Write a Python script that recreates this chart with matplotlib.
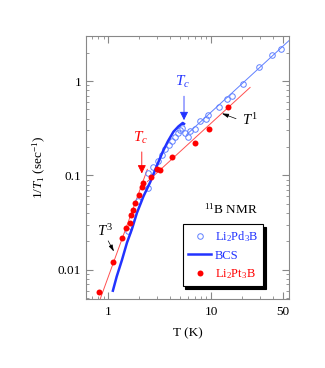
import numpy as np
import matplotlib
matplotlib.use('Agg')
import matplotlib.pyplot as plt
from matplotlib.ticker import LogLocator, NullFormatter, FixedLocator, FixedFormatter

plt.rcParams['font.family'] = ['Liberation Serif', 'DejaVu Serif']
plt.rcParams['mathtext.fontset'] = 'custom'
plt.rcParams['mathtext.rm'] = 'Liberation Serif'
plt.rcParams['mathtext.it'] = 'Liberation Serif:italic'

# Li2Pd3B (open circles), T in K, 1/T1 in 1/s
pd_T = [1.55, 1.93, 2.43, 2.46, 2.75, 3.06, 3.3, 3.6, 3.9, 4.2, 4.5, 4.8, 5.0, 5.2,
        5.59, 5.94, 6.25, 7.04, 7.81, 8.88, 9.42, 11.8, 14.3, 15.9, 20.3, 29.4, 39.3, 47.7]
pd_R = [0.026, 0.054, 0.074, 0.105, 0.124, 0.143, 0.165, 0.19, 0.21, 0.23, 0.255, 0.28, 0.30, 0.32,
        0.279, 0.257, 0.296, 0.31, 0.377, 0.40, 0.437, 0.527, 0.64, 0.69, 0.93, 1.41, 1.88, 2.18]

# Li2Pt3B (filled circles)
pt_T = [0.81, 1.11, 1.37, 1.50, 1.64, 1.67, 1.76, 1.83, 2.01, 2.12, 2.2, 2.6, 3.01, 3.2,
        4.2, 6.93, 9.55, 14.7]
pt_R = [0.0058, 0.0122, 0.0219, 0.028, 0.0315, 0.038, 0.0435, 0.051, 0.062, 0.075, 0.084, 0.097, 0.116, 0.114,
        0.155, 0.219, 0.313, 0.527]

# BCS curve
bcs_T = [1.11, 1.21, 1.36, 1.52, 1.70, 1.90, 2.2, 2.56, 3.0, 3.4, 3.8, 4.3, 4.8, 5.3, 5.45]
bcs_R = [0.0060, 0.0085, 0.0127, 0.0193, 0.027, 0.040, 0.060, 0.085, 0.13, 0.18, 0.23, 0.29, 0.33, 0.36, 0.352]

# guide lines (end points)
pd_fit_T = [5.8, 57]
pd_fit_R = [0.272, 2.68]
pt_fit1_T = [2.4, 23.9]
pt_fit1_R = [0.086, 0.856]
pt_fit3_T = [0.7, 2.4]
pt_fit3_R = [0.00288, 0.116]

blue = '#2233ff'
lblue = '#6080ff'
red = '#ff0000'

fig = plt.figure(figsize=(3.25, 3.68), dpi=100)
ax = fig.add_axes([0.265, 0.1875, 0.624, 0.7145])

ax.plot(pd_fit_T, pd_fit_R, color=lblue, lw=0.7)
ax.plot(pt_fit1_T, pt_fit1_R, color='#ff5050', lw=0.7)
ax.plot(pt_fit3_T, pt_fit3_R, color='#ff5050', lw=0.7)

ax.plot(pd_T, pd_R, 'o', mfc='none', mec=lblue, mew=0.7, ms=4, label=r'Li$_2$Pd$_3$B')
ax.plot(bcs_T, bcs_R, '-', color=blue, lw=1.8, label='BCS')
ax.plot(pt_T, pt_R, 'o', color=red, ms=4.3, mew=0, label=r'Li$_2$Pt$_3$B')

ax.set_xscale('log')
ax.set_yscale('log')
ax.set_xlim(0.61, 57)
ax.set_ylim(0.0049, 3.0)

ax.xaxis.set_major_locator(FixedLocator([1, 10, 50]))
ax.xaxis.set_major_formatter(FixedFormatter(['1', '10', '50']))
ax.xaxis.set_minor_locator(LogLocator(base=10, subs=np.arange(2, 10)))
ax.xaxis.set_minor_formatter(NullFormatter())
ax.yaxis.set_major_locator(FixedLocator([0.01, 0.1, 1]))
ax.yaxis.set_major_formatter(FixedFormatter(['0.01', '0.1', '1']))
ax.yaxis.set_minor_locator(LogLocator(base=10, subs=np.arange(2, 10)))
ax.yaxis.set_minor_formatter(NullFormatter())

grey = '#888888'
for s in ax.spines.values():
    s.set_color(grey)
    s.set_linewidth(0.8)
ax.tick_params(which='both', direction='in', top=True, right=True, color=grey, labelsize=9.5)
ax.tick_params(which='major', length=5)
ax.tick_params(which='minor', length=2.5)
ax.tick_params(axis='x', pad=5)

ax.set_xlabel('T (K)', fontsize=9.5, labelpad=7)
ax.set_ylabel(r'1/$T_1$ (sec$^{-1}$)', fontsize=9.5, labelpad=7)

# Tc markers
ax.annotate('', xy=(5.45, 0.36), xytext=(5.45, 0.74),
            arrowprops=dict(arrowstyle='-|>,head_width=0.25,head_length=0.5', color=blue, lw=0.6))
ax.text(5.3, 0.80, r'$T_c$', color=blue, fontsize=11, ha='center', va='bottom')
ax.annotate('', xy=(2.12, 0.098), xytext=(2.12, 0.19),
            arrowprops=dict(arrowstyle='-|>,head_width=0.25,head_length=0.5', color=red, lw=0.6))
ax.text(2.08, 0.205, r'$T_c$', color=red, fontsize=11, ha='center', va='bottom')

# power laws
ax.annotate('', xy=(12.0, 0.465), xytext=(18.5, 0.39),
            arrowprops=dict(arrowstyle='-|>,head_width=0.12,head_length=0.4', color='black', lw=0.5))
ax.text(20.0, 0.385, r'$T^1$', fontsize=10.5, va='center', ha='left')
ax.annotate('', xy=(1.17, 0.0147), xytext=(0.97, 0.0215),
            arrowprops=dict(arrowstyle='-|>,head_width=0.12,head_length=0.4', color='black', lw=0.5))
ax.text(0.92, 0.026, r'$T^3$', fontsize=10.5, va='center', ha='center')

ax.text(15.5, 0.044, r'$^{11}$B NMR', fontsize=9.5, ha='center', va='center')

leg = ax.legend(loc='lower left', bbox_to_anchor=(0.476, 0.049), borderaxespad=0,
                fancybox=False, shadow={'color': 'black', 'alpha': 1}, framealpha=1,
                edgecolor='black', fontsize=9, handlelength=1.9, handletextpad=0.25,
                borderpad=0.4, labelspacing=0.45)
leg.get_frame().set_linewidth(0.8)
for t, c in zip(leg.get_texts(), [blue, blue, red]):
    t.set_color(c)

fig.savefig('out.png', dpi=100)
